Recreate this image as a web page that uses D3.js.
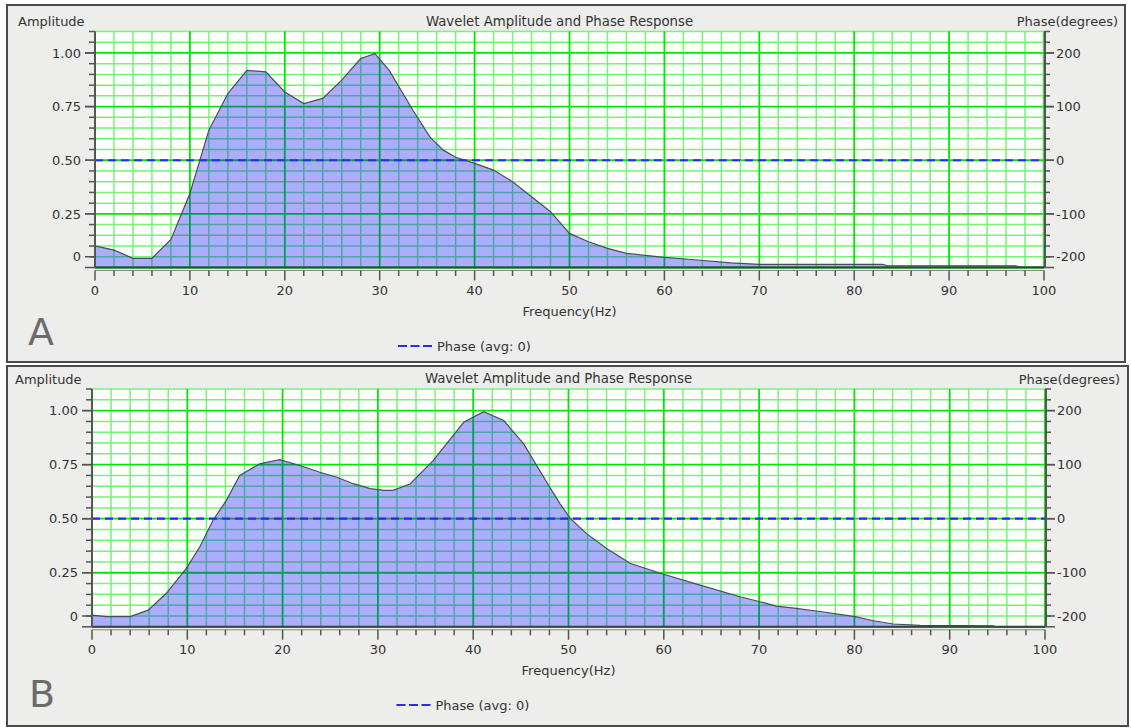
<!DOCTYPE html>
<html><head><meta charset="utf-8">
<script src="https://cdn.jsdelivr.net/npm/d3@7"></script>
<style>
body{margin:0;background:#fff}
svg{display:block}
text{font-family:"DejaVu Sans",sans-serif}
</style>
</head><body>
<svg id="c" width="1131" height="728"></svg>
<script>
// ---------- data ----------
const freqA = [0,2,4,6,8,10,12,14,16,18,20,22,24,26,28,29.5,31,33.5,35.3,36.7,38,40,42,44,46,48,50,52,54,56,60,63.5,67,70,83,83.5,97,97.5,100];
const ampA  = [0.101,0.081,0.043,0.043,0.131,0.345,0.64,0.811,0.919,0.912,0.818,0.764,0.788,0.873,0.974,0.997,0.919,0.733,0.608,0.547,0.514,0.485,0.454,0.40,0.33,0.26,0.159,0.12,0.089,0.066,0.047,0.035,0.022,0.015,0.015,0.008,0.008,0.002,0.002];
const freqB = [0,1.5,4,5.9,7.8,9.9,11.3,12.7,14.1,15.5,17.6,19.7,21.8,23.9,25.7,27.4,29.2,30.6,31.6,33.4,35.8,39.0,41.1,43.2,45.3,47.4,49.1,50.2,51.9,54.0,56.5,59.9,63.8,68.0,70.1,71.8,73.9,76.0,80.1,82.0,84.1,86.9,94.5,95,100];
const ampB  = [0.054,0.047,0.047,0.077,0.155,0.27,0.369,0.493,0.585,0.70,0.754,0.773,0.746,0.715,0.692,0.662,0.639,0.631,0.631,0.662,0.769,0.946,0.995,0.954,0.846,0.692,0.57,0.50,0.431,0.362,0.293,0.244,0.193,0.139,0.116,0.096,0.085,0.073,0.047,0.028,0.013,0.007,0.004,0.0,0.0];
const phaseFreq = [0, 100];
const phaseA = [0, 0];
const phaseB = [0, 0];
const freqTicks = [0,10,20,30,40,50,60,70,80,90,100];
const ampTicks = [0, 0.25, 0.5, 0.75, 1.0];
const ampTickLabels = ["0","0.25","0.50","0.75","1.00"];
const phaseTicks = [-200,-100,0,100,200];
const chartTitle = "Wavelet Amplitude and Phase Response";
const leftTitle = "Amplitude";
const rightTitle = "Phase(degrees)";
const xTitle = "Frequency(Hz)";
const legendLabel = "Phase (avg: 0)";
const panelLetters = ["A","B"];

// ---------- layout ----------
const svg = d3.select("#c");
const panels = [
  {box:[7,5,1118,357], L:95, R:1044, T:31.5, B:267.5, ampX:18, ttlY:25.5, rtX:1118,
   xlabY:294.5, xtY:316, legX:398, legY:346, letX:28, letY:345, freq:freqA, amp:ampA, phase:phaseA},
  {box:[7,366,1121,360], L:92, R:1045, T:389, B:626.8, ampX:15, ttlY:383, rtX:1120,
   xlabY:653.8, xtY:674.5, legX:396.5, legY:705, letX:29, letY:707, freq:freqB, amp:ampB, phase:phaseB}
];
const txt = "#333";
const axisCol = "#555";
const dash = "8,5";

panels.forEach((p, i) => {
  const g = svg.append("g");
  g.append("rect").attr("x",p.box[0]).attr("y",p.box[1]).attr("width",p.box[2]).attr("height",p.box[3])
    .attr("fill","#ededeb").attr("stroke","#4a4a4a").attr("stroke-width",2);

  const x = d3.scaleLinear().domain([0,100]).range([p.L,p.R]);
  const y = d3.scaleLinear().domain([0,1.1]).range([p.B,p.T]);
  const yp = d3.scaleLinear().domain([-200,240]).range([p.B,p.T]);

  g.append("rect").attr("x",p.L).attr("y",p.T).attr("width",p.R-p.L).attr("height",p.B-p.T).attr("fill","#fff");

  // grid
  const vx = d3.range(0,101,2);
  const hy = d3.range(0,23).map(k => +(k*0.05).toFixed(2));
  const isMajV = v => v % 10 === 0;
  const isMajH = v => Math.abs(v/0.25 - Math.round(v/0.25)) < 1e-6;
  const grid = g.append("g");
  grid.selectAll(".vmin").data(vx.filter(v=>!isMajV(v))).join("line")
    .attr("x1",d=>x(d)).attr("x2",d=>x(d)).attr("y1",p.T).attr("y2",p.B)
    .attr("stroke","#74f574").attr("stroke-width",1.5);
  grid.selectAll(".hmin").data(hy.filter(v=>!isMajH(v))).join("line")
    .attr("y1",d=>y(d)).attr("y2",d=>y(d)).attr("x1",p.L).attr("x2",p.R)
    .attr("stroke","#74f574").attr("stroke-width",1.5);
  grid.selectAll(".vmaj").data(vx.filter(isMajV)).join("line")
    .attr("x1",d=>x(d)).attr("x2",d=>x(d)).attr("y1",p.T).attr("y2",p.B)
    .attr("stroke","#00e800").attr("stroke-width",1.8);
  grid.selectAll(".hmaj").data(hy.filter(isMajH)).join("line")
    .attr("y1",d=>y(d)).attr("y2",d=>y(d)).attr("x1",p.L).attr("x2",p.R)
    .attr("stroke","#00e800").attr("stroke-width",1.8);

  // amplitude area
  const pts = p.freq.map((f,k)=>[f,p.amp[k]]);
  const area = d3.area().x(d=>x(d[0])).y0(y(0)).y1(d=>y(d[1]));
  const line = d3.line().x(d=>x(d[0])).y(d=>y(d[1]));
  g.append("path").attr("d",area(pts)).attr("fill","#0000ff").attr("fill-opacity",0.32);
  g.append("path").attr("d",line(pts)).attr("fill","none").attr("stroke","#4b4b5c").attr("stroke-width",1.2);
  g.append("line").attr("x1",p.L).attr("x2",p.R).attr("y1",p.B).attr("y2",p.B).attr("stroke","#2c4a3a").attr("stroke-width",2);

  // phase line
  const ppts = phaseFreq.map((f,k)=>[f,p.phase[k]]);
  const pline = d3.line().x(d=>x(d[0])).y(d=>yp(d[1]));
  g.append("path").attr("d",pline(ppts)).attr("fill","none").attr("stroke","#2a2aff")
    .attr("stroke-width",2.2).attr("stroke-dasharray",dash);

  // left axis
  const la = g.append("g");
  la.append("line").attr("x1",p.L).attr("x2",p.L).attr("y1",p.T).attr("y2",p.B).attr("stroke",axisCol).attr("stroke-width",2);
  la.selectAll(".mt").data(hy).join("line")
    .attr("x1",d=>p.L-(isMajH(d)?10:6)).attr("x2",p.L).attr("y1",d=>y(d)).attr("y2",d=>y(d))
    .attr("stroke",axisCol).attr("stroke-width",1.5);
  const minorAmp = 0.05;
  la.selectAll(".lbl").data(ampTicks).join("g").each(function(d,k){
    const yy = d === 0 ? y(d+minorAmp) : y(d);
    const s = d3.select(this);
    s.append("line").attr("x1",p.L-10).attr("x2",p.L).attr("y1",yy).attr("y2",yy).attr("stroke",axisCol).attr("stroke-width",1.5);
    s.append("text").attr("x",p.L-14).attr("y",yy).attr("dy","0.36em").attr("text-anchor","end")
      .attr("font-size",13).attr("fill",txt).text(ampTickLabels[k]);
  });

  // right axis
  const ra = g.append("g");
  const pMinor = d3.range(-200,241,20);
  ra.append("line").attr("x1",p.R+1).attr("x2",p.R+1).attr("y1",p.T).attr("y2",p.B).attr("stroke",axisCol).attr("stroke-width",2);
  ra.selectAll(".mt").data(pMinor).join("line")
    .attr("x1",p.R).attr("x2",d=>p.R+(d%100===0?10:6)).attr("y1",d=>yp(d)).attr("y2",d=>yp(d))
    .attr("stroke",axisCol).attr("stroke-width",1.5);
  ra.selectAll(".lbl").data(phaseTicks).join("g").each(function(d){
    const yy = d === -200 ? yp(d+20) : yp(d);
    const s = d3.select(this);
    s.append("line").attr("x1",p.R).attr("x2",p.R+10).attr("y1",yy).attr("y2",yy).attr("stroke",axisCol).attr("stroke-width",1.5);
    s.append("text").attr("x",p.R+12).attr("y",yy).attr("dy","0.36em").attr("text-anchor","start")
      .attr("font-size",13).attr("fill",txt).text(d);
  });

  // bottom axis
  const ba = g.append("g");
  const ax = p.B + 3;
  ba.append("line").attr("x1",p.L).attr("x2",p.R).attr("y1",ax).attr("y2",ax).attr("stroke","#888").attr("stroke-width",1);
  ba.selectAll(".mt").data(vx).join("line")
    .attr("x1",d=>x(d)).attr("x2",d=>x(d)).attr("y1",ax).attr("y2",d=>ax+(isMajV(d)?10:5.5))
    .attr("stroke",axisCol).attr("stroke-width",1.5);
  ba.selectAll(".lbl").data(freqTicks).join("text")
    .attr("x",d=>x(d)).attr("y",p.xlabY).attr("text-anchor","middle").attr("font-size",13).attr("fill",txt).text(d=>d);
  ba.append("text").attr("x",(p.L+p.R)/2).attr("y",p.xtY).attr("text-anchor","middle").attr("font-size",13).attr("fill",txt).text(xTitle);

  // titles
  g.append("text").attr("x",p.ampX).attr("y",p.ttlY+0.5).attr("font-size",13).attr("fill",txt).text(leftTitle);
  g.append("text").attr("x",(p.L+p.R)/2-10).attr("y",p.ttlY).attr("text-anchor","middle").attr("font-size",13.3).attr("fill",txt).text(chartTitle);
  g.append("text").attr("x",p.rtX).attr("y",p.ttlY+0.5).attr("text-anchor","end").attr("font-size",13).attr("fill",txt).text(rightTitle);

  // legend
  g.append("line").attr("x1",p.legX).attr("x2",p.legX+34).attr("y1",p.legY).attr("y2",p.legY)
    .attr("stroke","#2a2aff").attr("stroke-width",2.2).attr("stroke-dasharray","9,3.5");
  g.append("text").attr("x",p.legX+39).attr("y",p.legY).attr("dy","0.36em").attr("font-size",13).attr("fill",txt).text(legendLabel);

  // panel letter
  g.append("text").attr("x",p.letX).attr("y",p.letY).attr("font-size",38).attr("fill","#6b6b6b").text(panelLetters[i]);
});
</script>
</body></html>
